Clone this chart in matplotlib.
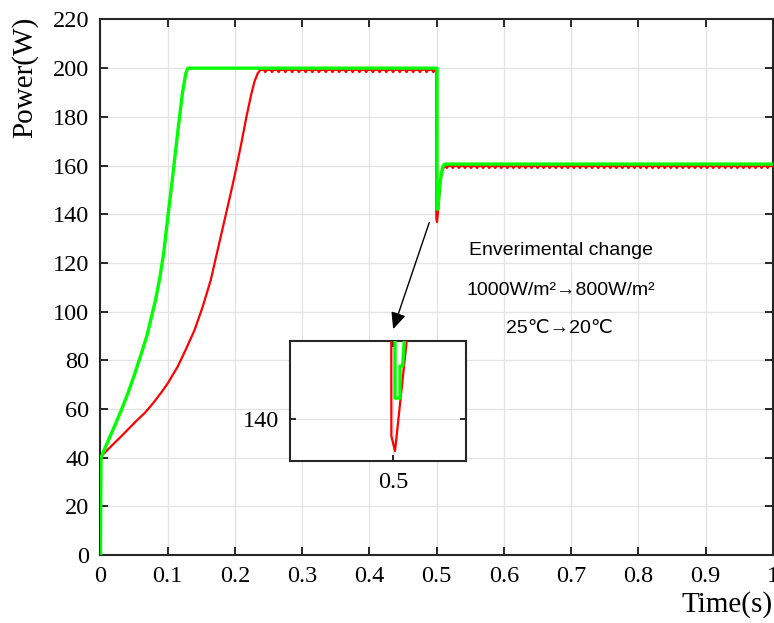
import numpy as np
import matplotlib
matplotlib.use('Agg')
import matplotlib.pyplot as plt

plt.rcParams['font.family'] = 'Liberation Serif'

# green curve (faster MPPT)
green_t = [0, 0.0008, 0.01, 0.021, 0.031, 0.041, 0.051, 0.061, 0.069, 0.076, 0.082,
           0.088, 0.094, 0.1, 0.108, 0.115, 0.122, 0.127, 0.13, 0.5005, 0.5005, 0.502,
           0.502, 0.5028, 0.5033, 0.505, 0.507, 0.509, 0.511, 0.513, 1.0]
green_p = [0, 40, 46, 53, 59.5, 66.6, 74.5, 83, 90, 98, 105,
           113.5, 124, 138.5, 157, 174, 190, 198, 200, 200, 142.1, 142.1,
           145.3, 145.3, 148, 153, 157, 159.3, 160.4, 160.6, 160.6]

# red curve ramp and transient
red_ramp_t = [0, 0.0008, 0.021, 0.03, 0.041, 0.053, 0.066, 0.078, 0.09, 0.1, 0.115,
              0.127, 0.14, 0.152, 0.164, 0.179, 0.194, 0.2, 0.209, 0.217, 0.224,
              0.229, 0.234, 0.238]
red_ramp_p = [0, 40.5, 46.1, 48.5, 51.6, 55, 58.4, 62.3, 66.6, 70.5, 77.5,
              84.5, 92.5, 102, 113, 131, 149, 156.5, 168.5, 180, 189,
              194.5, 198, 199.3]
red_drop_t = [0.4992, 0.4994, 0.5005, 0.504, 0.506, 0.509, 0.512]
red_drop_p = [199.3, 138.3, 136.8, 147.8, 154.5, 158.5, 159.8]

# ripple dips on the red plateaus
red_level1, red_dip1 = 199.3, 198.4
red_dips1 = [0.245, 0.255, 0.265, 0.275, 0.285, 0.295, 0.305, 0.315, 0.325, 0.335,
             0.345, 0.355, 0.365, 0.375, 0.385, 0.395, 0.405, 0.415, 0.425, 0.435,
             0.445, 0.455, 0.465, 0.475, 0.485, 0.495]
red_level2, red_dip2 = 159.8, 159.0
red_dips2 = [0.515, 0.524, 0.533, 0.542, 0.551, 0.560, 0.569, 0.578, 0.587, 0.596,
             0.605, 0.614, 0.623, 0.632, 0.641, 0.650, 0.659, 0.668, 0.677, 0.686,
             0.695, 0.704, 0.713, 0.722, 0.731, 0.740, 0.749, 0.758, 0.767, 0.776,
             0.785, 0.794, 0.803, 0.812, 0.821, 0.830, 0.839, 0.848, 0.857, 0.866,
             0.875, 0.884, 0.893, 0.902, 0.911, 0.920, 0.929, 0.938, 0.947, 0.956,
             0.965, 0.974, 0.983, 0.992]

xticks = [0, 0.1, 0.2, 0.3, 0.4, 0.5, 0.6, 0.7, 0.8, 0.9, 1]
xticklabels = ['0', '0.1', '0.2', '0.3', '0.4', '0.5', '0.6', '0.7', '0.8', '0.9', '1']
yticks = list(range(0, 221, 20))


def ripple(dips, level, low, w=0.002):
    t, p = [], []
    for d in dips:
        t += [d - w, d, d + w]
        p += [level, low, level]
    return t, p


r1t, r1p = ripple(red_dips1, red_level1, red_dip1)
r2t, r2p = ripple(red_dips2, red_level2, red_dip2)
red_t = red_ramp_t + r1t + red_drop_t + r2t + [1.0]
red_p = red_ramp_p + r1p + red_drop_p + r2p + [red_level2]

RED = '#ff0000'
GREEN = '#00ff00'
GRID = '#e3e3e3'
SPINE = '#262626'

fig = plt.figure(figsize=(7.74, 6.23), dpi=100)
ax = fig.add_axes([0.1298, 0.1091, 0.8689, 0.8596])
ax.plot(red_t, red_p, color=RED, lw=1.6, zorder=3)
ax.plot(green_t, green_p, color=GREEN, lw=2.4, zorder=4)

ax.set_xlim(0, 1)
ax.set_ylim(0, 220)
ax.set_xticks(xticks)
ax.set_xticklabels(xticklabels)
ax.set_yticks(yticks)
ax.grid(True, color=GRID, lw=0.9)
ax.set_axisbelow(True)
ax.tick_params(direction='in', length=6, width=1.4, color=SPINE,
               labelsize=17.5, top=True, right=True, pad=8)
for s in ax.spines.values():
    s.set_linewidth(1.5)
    s.set_color(SPINE)

ax.set_xlabel('Time(s)', fontsize=21, loc='right', labelpad=3)
ax.set_ylabel('Power(W)', fontsize=21)
ax.yaxis.set_label_coords(-0.092, 0.891)

sans = ['Liberation Sans', 'DejaVu Sans', 'Noto Sans CJK SC']
ax.text(0.685, 125.3, 'Enverimental change', ha='center', va='center',
        fontsize=14, family=sans)
ax.text(0.685, 108.8, '1000W/m²→800W/m²', ha='center', va='center',
        fontsize=14, family=sans)
ax.text(0.682, 93.2, '25℃→20℃', ha='center', va='center',
        fontsize=14, family=sans)
ax.annotate('', xy=(0.4352, 92.8), xytext=(0.4889, 136.6),
            arrowprops=dict(arrowstyle='-|>,head_length=1.0,head_width=0.45',
                            color='black', lw=1.0, shrinkA=0, shrinkB=0))

# inset zoom around t = 0.5
ins = fig.add_axes([0.3747, 0.2600, 0.2274, 0.1926])
ins.plot(red_t, red_p, color=RED, lw=1.6, zorder=3)
ins.plot(green_t, green_p, color=GREEN, lw=2.4, zorder=4)
ins.set_xlim(0.4690, 0.5218)
ins.set_ylim(135.8, 147.8)
ins.set_xticks([0.5])
ins.set_xticklabels(['0.5'])
ins.set_yticks([140])
ins.grid(True, color=GRID, lw=0.9)
ins.set_axisbelow(True)
ins.tick_params(direction='in', length=4, width=1.4, color=SPINE,
                labelsize=17.5, top=True, right=True, pad=8)
for s in ins.spines.values():
    s.set_linewidth(1.5)
    s.set_color(SPINE)

fig.savefig('out.png', dpi=100)
